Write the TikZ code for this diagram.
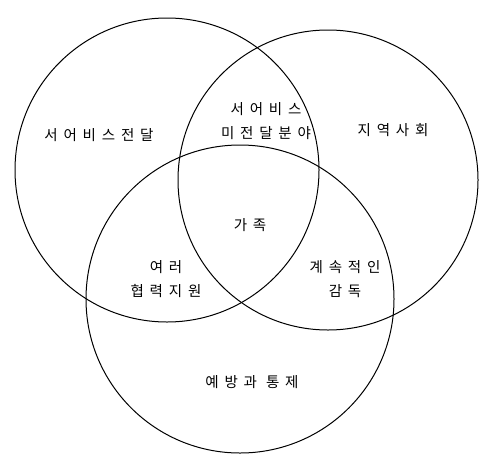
\documentclass[tikz,border=0pt]{standalone}
\usepackage{fontspec}
\newfontfamily\kr[LetterSpace=40]{Noto Sans CJK KR}
\usetikzlibrary{positioning}
\tikzset{
  ring/.style={draw=black, circle, line width=1pt, minimum size=#1, inner sep=0pt},
  lbl/.style={font=\kr\fontsize{14.5}{24}\selectfont, align=center, inner sep=1pt},
}

\begin{document}
\begin{tikzpicture}[x=1pt, y=-1pt]
\useasboundingbox (0,0) rectangle (494,471);

% Three circles
\node[ring=304pt] (service) at (167,170) {};
\node[ring=300pt] (community) at (328,180) {};
\node[ring=308pt] (prevent) at (240,299) {};

% Labels
\node[lbl] (delivery) at (99,135) {서어비스전달};
\node[lbl] (gap) at (266,121) {서어비스\\미전달분야};
\node[lbl] (region) at (393,130) {지역사회};
\node[lbl] (family) at (250,225) {가족};
\node[lbl] (support) at (166,279) {여러\\협력지원};
\node[lbl] (supervise) at (345,279) {계속적인\\감독};
\node[lbl] (control) at (252,382) {예방과 통제};

\end{tikzpicture}
\end{document}
